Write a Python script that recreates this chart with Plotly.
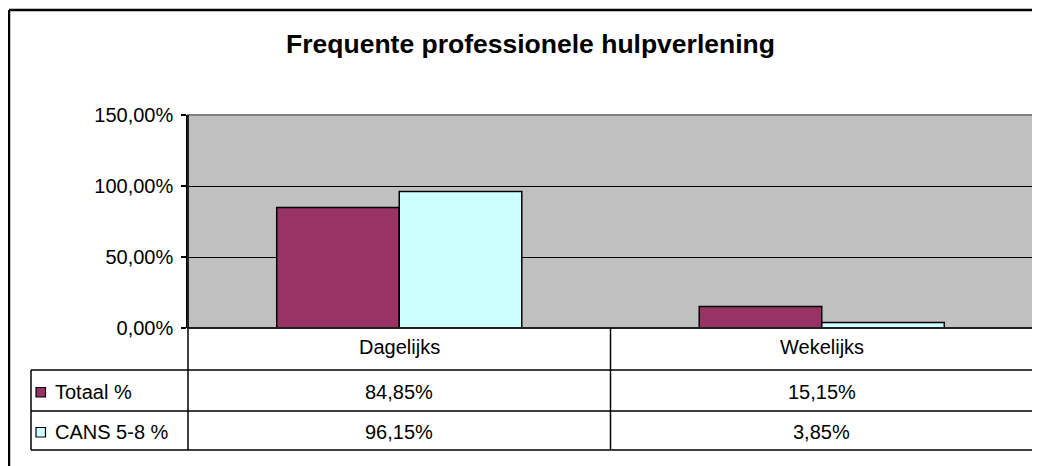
import plotly.graph_objects as go

categories = ["Dagelijks", "Wekelijks"]
series_names = ["Totaal %", "CANS 5-8 %"]
totaal = [84.85, 15.15]
cans = [96.15, 3.85]
series_values = [totaal, cans]
colors = ["#993366", "#CCFFFF"]
y_ticks = [0, 50, 100, 150]

OFF = 8  # page body margin
W, H = 1040 - OFF, 466 - OFF
# plot area in page pixels: x 188..1033, y 115..328
L = 188 - OFF
T = 115 - OFF
R = W - (1033 - OFF)
B = H - (328 - OFF)
PW, PH = W - L - R, H - T - B
FONT = "Liberation Sans, Arial, sans-serif"


def px_x(x):
    return (x - OFF - L) / PW


def px_y(y):
    return (H - B - (y - OFF)) / PH


def pct(v):
    return f"{v:.2f}%".replace(".", ",")


fig = go.Figure()
for name, vals, col in zip(series_names, series_values, colors):
    fig.add_trace(go.Bar(
        x=categories, y=vals, name=name,
        marker=dict(color=col, line=dict(color="black", width=1.5)),
        showlegend=False,
    ))

shapes = []
line = dict(color="black", width=1.5)
# outer chart border (top and left visible)
shapes.append(dict(type="line", xref="paper", yref="paper", x0=px_x(9), x1=px_x(1050),
                   y0=px_y(10), y1=px_y(10), line=dict(color="black", width=2.5)))
shapes.append(dict(type="line", xref="paper", yref="paper", x0=px_x(9), x1=px_x(9),
                   y0=px_y(10), y1=px_y(480), line=dict(color="black", width=2.5)))
# plot area border
shapes.append(dict(type="rect", xref="paper", yref="paper", x0=0, x1=1, y0=0, y1=1,
                   line=dict(color="#808080", width=2)))
# table rows
row_y = [328, 370, 411, 450]
shapes.append(dict(type="line", xref="paper", yref="paper", x0=0, x1=1,
                   y0=0, y1=0, line=line))
for yy in row_y[1:]:
    shapes.append(dict(type="line", xref="paper", yref="paper", x0=px_x(31), x1=1,
                       y0=px_y(yy), y1=px_y(yy), line=line))
# verticals
shapes.append(dict(type="line", xref="paper", yref="paper", x0=px_x(31), x1=px_x(31),
                   y0=px_y(370), y1=px_y(450), line=line))
shapes.append(dict(type="line", xref="paper", yref="paper", x0=0, x1=0,
                   y0=1, y1=px_y(450), line=line))
shapes.append(dict(type="line", xref="paper", yref="paper", x0=1, x1=1,
                   y0=1, y1=px_y(450), line=line))
for i in range(len(categories) - 1):
    shapes.append(dict(type="line", xref="x", yref="paper", x0=i + 0.5, x1=i + 0.5,
                       y0=0, y1=px_y(450), line=line))

annotations = []
txt_font = dict(size=20, color="black", family=FONT)
for c in categories:
    annotations.append(dict(x=c, xref="x", y=px_y(347), yref="paper", text=c,
                            showarrow=False, font=txt_font,
                            xanchor="center", yanchor="middle"))
for r, (name, vals, col) in enumerate(zip(series_names, series_values, colors)):
    yc = (row_y[r + 1] + row_y[r + 2]) / 2 + 1.5
    shapes.append(dict(type="rect", xref="paper", yref="paper",
                       x0=px_x(36), x1=px_x(45.5), y0=px_y(yc - 4.5), y1=px_y(yc + 5),
                       fillcolor=col, line=dict(color="black", width=1.2)))
    annotations.append(dict(x=px_x(53), xref="paper", y=px_y(yc), yref="paper", text=name,
                            showarrow=False, font=txt_font,
                            xanchor="left", yanchor="middle"))
    for c, v in zip(categories, vals):
        annotations.append(dict(x=c, xref="x", y=px_y(yc), yref="paper",
                                text=pct(v), showarrow=False, font=txt_font,
                                xanchor="center", yanchor="middle"))

fig.update_layout(
    width=W, height=H,
    margin=dict(l=L, r=R, t=T, b=B),
    paper_bgcolor="white", plot_bgcolor="#C0C0C0",
    barmode="group", bargap=0.42, bargroupgap=0,
    font=dict(family=FONT, color="black", size=20),
    title=dict(text="<b>Frequente professionele hulpverlening</b>", xref="container",
               x=(530.5 - OFF) / W, xanchor="center", yref="container",
               y=1 - (44 - OFF) / H, yanchor="middle",
               font=dict(size=26.5, color="black", family=FONT)),
    xaxis=dict(showticklabels=False, ticks="", showgrid=False, zeroline=False,
               range=[-0.5, len(categories) - 0.5]),
    yaxis=dict(range=[0, 150], tickvals=y_ticks, ticktext=[pct(t) for t in y_ticks],
               showgrid=True, gridcolor="black", gridwidth=1, zeroline=False,
               showline=True, linecolor="black", linewidth=1.5,
               ticks="outside", ticklen=5, tickcolor="black", tickwidth=1.5,
               ticklabelstandoff=4, tickfont=txt_font),
    shapes=shapes, annotations=annotations,
)
fig.write_html("out.html")
